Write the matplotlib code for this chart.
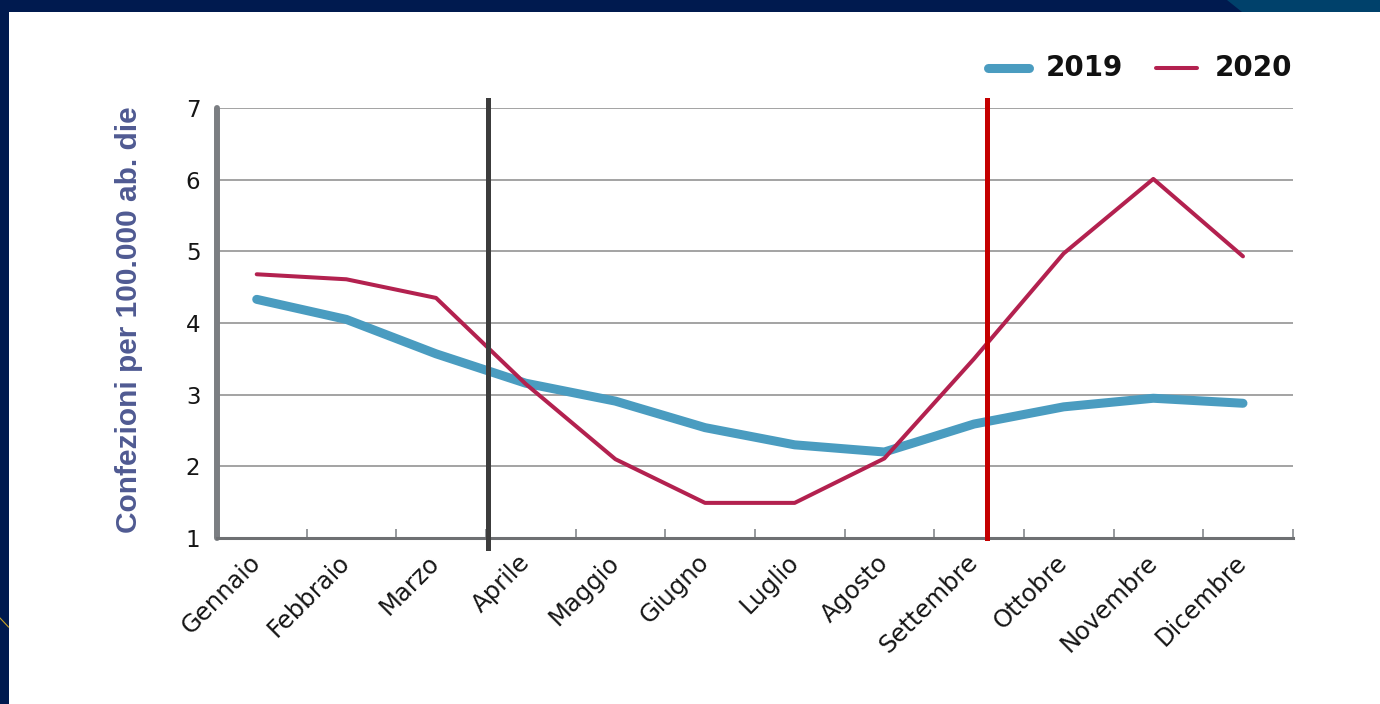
import matplotlib
matplotlib.use('Agg')
import matplotlib.pyplot as plt
from matplotlib.patches import Rectangle, Polygon
from matplotlib.lines import Line2D
import numpy as np

# ---- data ----
months = ['Gennaio', 'Febbraio', 'Marzo', 'Aprile', 'Maggio', 'Giugno',
          'Luglio', 'Agosto', 'Settembre', 'Ottobre', 'Novembre', 'Dicembre']
v2019 = [4.33, 4.05, 3.57, 3.16, 2.91, 2.54, 2.30, 2.20, 2.59, 2.83, 2.95, 2.88]
v2020 = [4.68, 4.61, 4.35, 3.15, 2.10, 1.49, 1.49, 2.11, 3.50, 4.97, 6.01, 4.93]
yticks = [1, 2, 3, 4, 5, 6, 7]
series_labels = ['2019', '2020']
ylabel = 'Confezioni per 100.000 ab. die'
vline_dark_x = 2.58
vline_red_x = 8.14

W, H = 1380, 704
fig = plt.figure(figsize=(W / 100, H / 100), dpi=100)
fig.patch.set_facecolor('#001A4F')

def fx(px):
    return px / W

def fy(py):
    return 1 - py / H

# white panel + top-right teal wedge + gold thin line
fig.add_artist(Rectangle((fx(8.5), 0), 1, fy(11.7), transform=fig.transFigure,
                         facecolor='white', edgecolor='none', zorder=0))
fig.add_artist(Polygon([(fx(1227), fy(0)), (fx(1380), fy(0)), (fx(1380), fy(11.7)),
                        (fx(1242), fy(11.7))], closed=True, transform=fig.transFigure,
                       facecolor='#00416B', edgecolor='none', zorder=0))
fig.add_artist(Line2D([fx(0), fx(8.5)], [fy(618), fy(627)], transform=fig.transFigure,
                      color='#C9A227', lw=0.8))

ax = fig.add_axes([fx(217), fy(538), fx(1293) - fx(217), (538 - 108) / H])
ax.set_facecolor('none')
x = np.arange(len(months))
ax.set_xlim(-0.443, 11.558)
ax.set_ylim(1, 7)

# grid
ax.set_yticks(yticks)
ax.yaxis.grid(True, color='#9c9c9c', lw=1.3, zorder=1)
ax.set_axisbelow(True)

# spines
for s in ['top', 'right']:
    ax.spines[s].set_visible(False)
ax.spines['left'].set_linewidth(4.3)
ax.spines['left'].set_color('#7b7e82')
ax.spines['left'].set_capstyle('round')
ax.spines['bottom'].set_linewidth(2.2)
ax.spines['bottom'].set_color('#6e7073')

# lines
ax.plot(x, v2019, color='#4A9CC0', lw=6.5, solid_capstyle='round',
        solid_joinstyle='round', zorder=3)
ax.plot(x, v2020, color='#B3214F', lw=2.9, solid_capstyle='round',
        solid_joinstyle='round', zorder=4)

# vertical reference lines
ax.axvline(vline_dark_x, ymin=-0.023, ymax=1.019, color='#3c3c3c', lw=3.6,
           clip_on=False, zorder=5)
ax.axvline(vline_red_x, ymin=0, ymax=1.019, color='#C40000', lw=3.6,
           clip_on=False, zorder=5)

# ticks
ax.tick_params(axis='y', length=0, pad=12, labelsize=16.5, labelcolor='#151515')
for t in ax.get_yticklabels():
    t.set_fontfamily(['DejaVu Sans'])
    t.set_fontweight('normal')
ax.set_xticks(x + 0.558)
ax.set_xticklabels([])
ax.tick_params(axis='x', which='major', direction='in', length=6.8, width=1.1,
               color='#7b7e82')
ax.set_xticks(x, minor=True)
ax.set_xticklabels(months, minor=True)
ax.tick_params(axis='x', which='minor', length=0, pad=15, labelsize=17.5,
               labelcolor='#151515')
for t in ax.get_xticklabels(minor=True):
    t.set_rotation(45)
    t.set_ha('right')
    t.set_va('center')
    t.set_rotation_mode('anchor')
    t.set_fontfamily(['DejaVu Sans'])
    t.set_fontweight('normal')

# y label
fig.text(fx(129), fy(320), ylabel, rotation=90, ha='center', va='center',
         fontsize=21.5, fontweight='bold', color='#4F5A92',
         family=['Liberation Sans', 'DejaVu Sans'])

# legend (manual)
fig.add_artist(Line2D([fx(988), fx(1029)], [fy(68), fy(68)], transform=fig.transFigure,
                      color='#4A9CC0', lw=6.5, solid_capstyle='round'))
fig.text(fx(1046), fy(68), series_labels[0], ha='left', va='center', fontsize=20,
         fontweight='bold', color='#111111')
fig.add_artist(Line2D([fx(1156), fx(1197)], [fy(68), fy(68)], transform=fig.transFigure,
                      color='#B3214F', lw=2.9, solid_capstyle='round'))
fig.text(fx(1215), fy(68), series_labels[1], ha='left', va='center', fontsize=20,
         fontweight='bold', color='#111111')

fig.savefig('out.png', dpi=100, facecolor=fig.get_facecolor())
